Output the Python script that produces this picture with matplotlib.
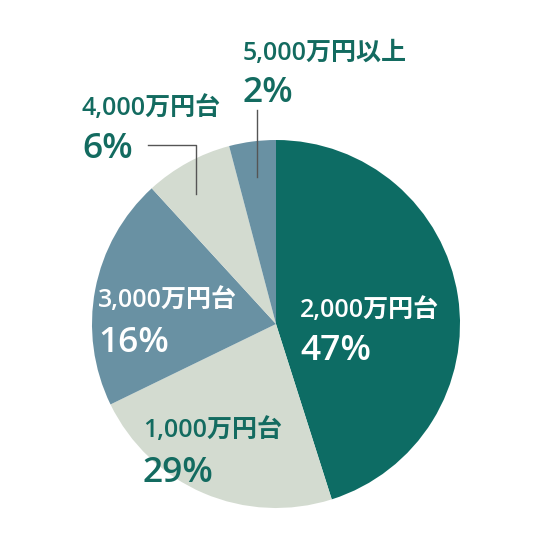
import matplotlib
matplotlib.use("Agg")
import matplotlib.pyplot as plt

# slice categories (clockwise from top), drawn shares, printed labels
categories = ["2,000万円台", "1,000万円台", "3,000万円台", "4,000万円台", "5,000万円以上"]
shares = [45.1, 22.7, 20.4, 7.7, 4.1]
pct_labels = ["47%", "29%", "16%", "6%", "2%"]

colors = ["#0d6c64", "#d3dbd0", "#6991a3", "#d3dbd0", "#6991a3"]
text_colors = ["white", "#136b60", "white", "#136b60", "#136b60"]
# label anchor (left x, baseline y of category, baseline y of percentage) in pixel coords from top
label_pos = [(300, 317, 360), (143, 437, 482), (98, 307, 352), (82, 115, 158), (243, 60, 102)]

W, H = 539, 545
fig = plt.figure(figsize=(W / 100, H / 100), dpi=100)
ax = fig.add_axes([0, 0, 1, 1])

cx, cy, r = 276, H - 324, 184
ax.pie(shares, colors=colors, startangle=90, counterclock=False,
       center=(cx, cy), radius=r, wedgeprops=dict(linewidth=0), frame=True)
ax.set_xlim(0, W)
ax.set_ylim(0, H)
ax.set_aspect("equal")
ax.axis("off")

# leader lines
ax.plot([257, 257], [H - 110, H - 177], color="#555555", lw=1)
ax.plot([148, 196, 196], [H - 145, H - 145, H - 194], color="#555555", lw=1)

fam = ["Open Sans", "Noto Sans CJK JP"]
for cat, pct, tc, (x, yb1, yb2) in zip(categories, pct_labels, text_colors, label_pos):
    ax.text(x, H - yb1, cat, fontsize=18, color=tc, family=fam, weight="semibold",
            ha="left", va="baseline")
    ax.text(x, H - yb2, pct, fontsize=25.5, color=tc, family=fam, weight="semibold",
            ha="left", va="baseline")

fig.savefig("out.png", dpi=100)
